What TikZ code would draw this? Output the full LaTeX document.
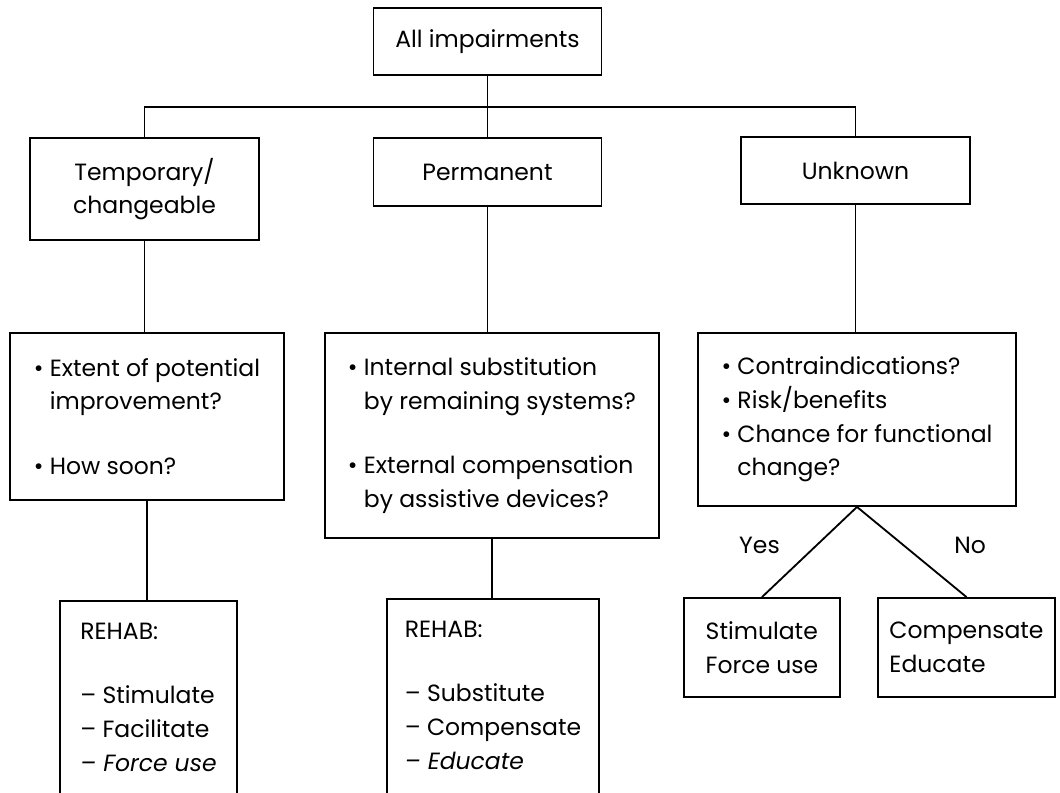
\documentclass[tikz,border=0pt]{standalone}
\usepackage{fontspec}
\setmainfont{Poppins}
\begin{document}
\begin{tikzpicture}[x=0.025cm,y=-0.025cm,
  box/.style={draw=black, line width=1.3pt, fill=white, inner sep=0pt, align=center,
    font=\fontsize{16.7}{24}\selectfont},
  lbox/.style={box, align=left},
  rbox/.style={box, align=left, anchor=north, inner xsep=0.4cm, inner ysep=0.55cm, text depth=3.2cm},
  conn/.style={line width=1.3pt},
  lab/.style={font=\fontsize{16.7}{24}\selectfont}]
\clip (0,0) rectangle (1060,793);
\fill[white] (0,0) rectangle (1060,793);

\node[box, minimum width=5.7cm, minimum height=1.675cm] (top) at (487.5,41.5) {All impairments};
\node[box, minimum width=5.725cm, minimum height=2.55cm] (temp) at (144.5,189) {Temporary/\\changeable};
\node[box, minimum width=5.7cm, minimum height=1.7cm] (perm) at (487.5,172) {Permanent};
\node[box, minimum width=5.725cm, minimum height=1.675cm] (unk) at (855.5,170.5) {Unknown};

\node[lbox, minimum width=6.85cm, minimum height=4.175cm] (q1) at (147,416.5)
  {\textbullet\ Extent of potential\\\phantom{\textbullet\ }improvement?\\[22pt]\textbullet\ How soon?};
\node[lbox, minimum width=8.35cm, minimum height=5.125cm] (q2) at (492,435.5)
  {\textbullet\ Internal substitution\\\phantom{\textbullet\ }by remaining systems?\\[22pt]\textbullet\ External compensation\\\phantom{\textbullet\ }by assistive devices?};
\node[lbox, minimum width=7.95cm, minimum height=4.325cm] (q3) at (857,419.5)
  {\textbullet\ Contraindications?\\\textbullet\ Risk/benefits\\\textbullet\ Chance for functional\\\phantom{\textbullet\ }change?};

\node[rbox, minimum width=4.425cm] (r1) at (148.5,600)
  {REHAB:\\[22pt]-- Stimulate\\-- Facilitate\\\itshape -- Force use};
\node[rbox, minimum width=5.3cm] (r2) at (493,598)
  {REHAB:\\[22pt]-- Substitute\\-- Compensate\\\itshape -- Educate};

\node[lbox, minimum width=3.9cm, minimum height=2.475cm] (s1) at (762,647.5) {Stimulate\\Force use};
\node[lbox, minimum width=4.425cm, minimum height=2.475cm] (s2) at (966.5,647.5) {Compensate\\Educate};

\coordinate (bus) at (487.5,107);
\draw[conn] (top.south) -- (perm.north);
\draw[conn] (temp.north) -- (temp.north |- bus) -- (unk.north |- bus) -- (unk.north);
\draw[conn] (temp.south) -- (temp.south |- q1.north);
\draw[conn] (perm.south) -- (perm.south |- q2.north);
\draw[conn] (unk.south) -- (unk.south |- q3.north);
\draw[conn] (q1.south) -- (q1.south |- r1.north);
\draw[conn] (q2.south) -- (q2.south |- r2.north);
\draw[conn] (q3.south) -- (s1.north) node[lab, midway, xshift=-1.25cm, yshift=0.175cm] {Yes};
\draw[conn] (q3.south) -- (s2.north) node[lab, midway, xshift=1.46cm, yshift=0.175cm] {No};
\end{tikzpicture}
\end{document}
